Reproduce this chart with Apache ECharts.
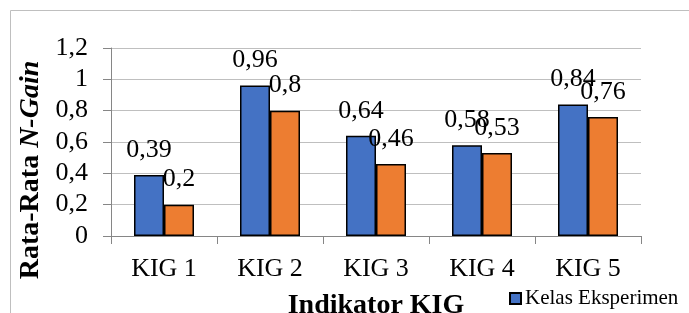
<!DOCTYPE html>
<html>
<head>
<meta charset="utf-8">
<script src="https://cdn.jsdelivr.net/npm/echarts@6/dist/echarts.min.js"></script>
<style>
  html, body { margin: 0; padding: 0; background: #fff; }
  #chart { width: 689px; height: 313px; }
</style>
</head>
<body>
<div id="chart"></div>
<script>
const categories = ["KIG 1", "KIG 2", "KIG 3", "KIG 4", "KIG 5"];
const eksperimen = [0.39, 0.96, 0.64, 0.58, 0.84];
const kontrol = [0.2, 0.8, 0.46, 0.53, 0.76];
const seriesNames = ["Kelas Eksperimen", "Kelas Kontrol"];

const font = "Liberation Serif";

function fmt(v) {
  return String(v).replace(".", ",");
}

const chart = echarts.init(document.getElementById("chart"));

const labelStyle = {
  show: true,
  position: "top",
  distance: 12,
  color: "#000",
  fontFamily: font,
  fontSize: 26,
  formatter: ({ value }) => fmt(value),
};

chart.setOption({
  backgroundColor: "#fff",
  animation: false,
  graphic: [
    {
      type: "rect",
      shape: { x: 10.5, y: 10.5, width: 700, height: 400 },
      style: { fill: "none", stroke: "#bfbfbf", lineWidth: 1 },
      silent: true,
    },
  ],
  grid: { left: 111, right: 48, top: 48, bottom: 77, outerBoundsMode: "none" },
  legend: {
    data: [seriesNames[0]],
    left: 509,
    top: 288,
    padding: 0,
    icon: "rect",
    itemWidth: 11,
    itemHeight: 11,
    itemGap: 5,
    textStyle: { fontFamily: font, fontSize: 21, color: "#000", padding: [0, 0, 0, -1] },
  },
  xAxis: {
    type: "category",
    data: categories,
    name: "Indikator KIG",
    nameLocation: "middle",
    nameGap: 56,
    nameTextStyle: { fontFamily: font, fontSize: 28, fontWeight: "bold", color: "#000" },
    axisLine: { lineStyle: { color: "#868686", width: 1 } },
    axisTick: { show: true, length: 8, lineStyle: { color: "#868686" } },
    axisLabel: { margin: 20, fontFamily: font, fontSize: 26, color: "#000" },
  },
  yAxis: {
    type: "value",
    min: 0,
    max: 1.2,
    interval: 0.2,
    name: "{b|Rata-Rata }{i|N-Gain}",
    nameLocation: "middle",
    nameGap: 65,
    nameRotate: 90,
    nameTextStyle: {
      padding: [0, 56, 0, 0],
      rich: {
        b: { fontFamily: font, fontSize: 28, fontWeight: "bold", color: "#000" },
        i: { fontFamily: font, fontSize: 28, fontWeight: "bold", fontStyle: "italic", color: "#000" },
      },
    },
    axisLine: { show: true, lineStyle: { color: "#868686", width: 1 } },
    axisTick: { show: true, length: 8, lineStyle: { color: "#868686" } },
    axisLabel: {
      margin: 23,
      fontFamily: font,
      fontSize: 26,
      color: "#000",
      formatter: (v) => fmt(Math.round(v * 10) / 10),
    },
    splitLine: { lineStyle: { color: "#bfbfbf", width: 1 } },
  },
  series: [
    {
      name: seriesNames[0],
      type: "bar",
      data: eksperimen,
      barWidth: 30,
      barGap: "0%",
      itemStyle: { color: "#4472C4", borderColor: "#000", borderWidth: 1.5 },
      label: labelStyle,
    },
    {
      name: seriesNames[1],
      type: "bar",
      data: kontrol,
      barWidth: 30,
      barGap: "0%",
      itemStyle: { color: "#ED7D31", borderColor: "#000", borderWidth: 1.5 },
      label: labelStyle,
    },
  ],
});
</script>
</body>
</html>
